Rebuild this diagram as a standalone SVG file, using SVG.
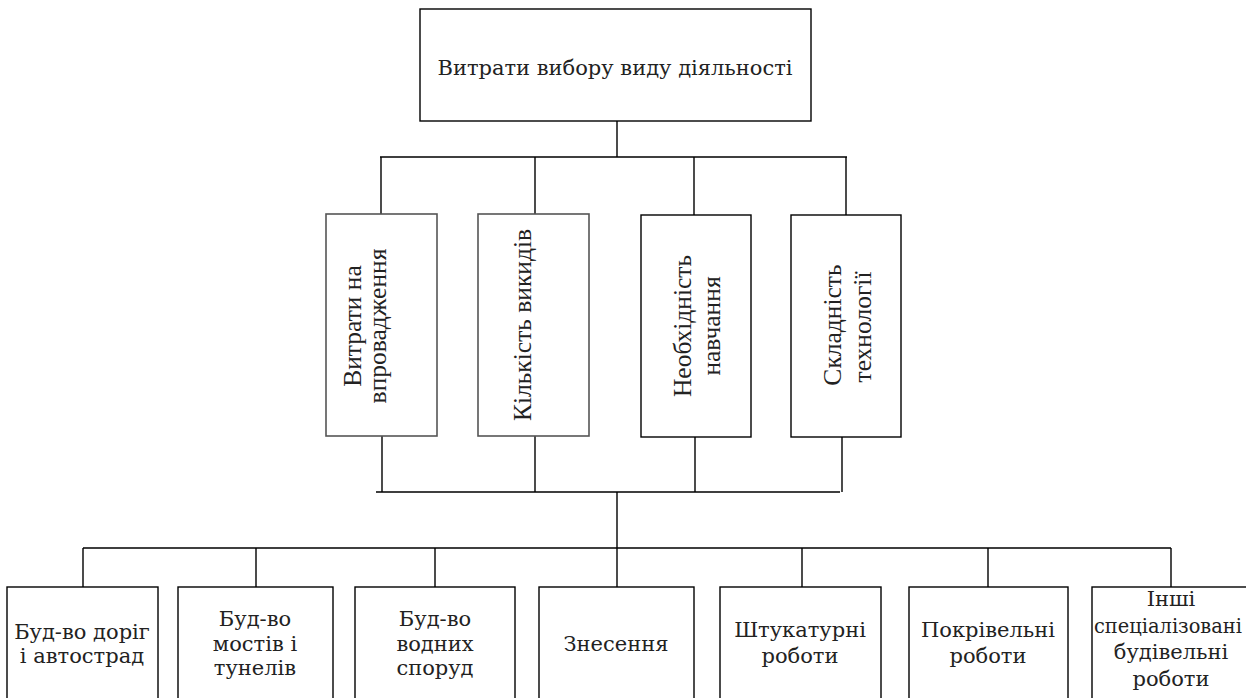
<svg xmlns="http://www.w3.org/2000/svg" width="1246" height="698" viewBox="0 0 1246 698">
<style>
.box{fill:#fff;stroke:#000;stroke-width:1.4}
.gbox{fill:#fff;stroke:#555;stroke-width:1.6}
.ln{stroke:#000;stroke-width:1.4;fill:none}
.t{font-family:"DejaVu Serif",serif;font-size:21px;fill:#222;text-anchor:middle}
.v{font-family:"Liberation Serif","Times New Roman",serif;font-size:25.5px;fill:#222;text-anchor:middle}
</style>
<rect width="1246" height="698" fill="#fff"/>
<g id="connectors">
<path class="ln" d="M617 121V157M380 157H847M381 157V214M535 157V214M694 157V215M846 157V215"/>
<path class="ln" d="M382 436V492M535 436V492M695 437V492M842 437V492M376 492H840M617 492V548M83 548H1171M83 548V587M256 548V587M435 548V587M617 548V587M802 548V587M988 548V587M1171 548V587"/>
</g>
<g id="root"><rect class="box" x="420" y="9" width="391" height="112"/><text class="t" x="615" y="75">Витрати вибору виду діяльності</text></g>
<g id="m1"><rect class="gbox" x="326" y="214" width="111" height="222"/>
<text class="v" transform="translate(361 326) rotate(-90)">Витрати на</text>
<text class="v" transform="translate(386 326) rotate(-90)">впровадження</text></g>
<g id="m2"><rect class="gbox" x="478" y="214" width="111" height="222"/>
<text class="v" transform="translate(531 325) rotate(-90)">Кількість викидів</text></g>
<g id="m3"><rect class="box" x="641" y="215" width="110" height="222"/>
<text class="v" transform="translate(691 326) rotate(-90)">Необхідність</text>
<text class="v" transform="translate(720 326) rotate(-90)">навчання</text></g>
<g id="m4"><rect class="box" x="791" y="215" width="110" height="222"/>
<text class="v" transform="translate(841 325) rotate(-90)">Складність</text>
<text class="v" transform="translate(871 327) rotate(-90)">технології</text></g>
<g id="b1"><rect class="box" x="7" y="587" width="151" height="120"/><text class="t" x="82" y="639">Буд-во доріг</text><text class="t" x="82" y="663">і автострад</text></g>
<g id="b2"><rect class="box" x="178" y="587" width="155" height="120"/><text class="t" x="255" y="626">Буд-во</text><text class="t" x="255" y="651">мостів і</text><text class="t" x="255" y="675">тунелів</text></g>
<g id="b3"><rect class="box" x="355" y="587" width="160" height="120"/><text class="t" x="435" y="626">Буд-во</text><text class="t" x="435" y="651">водних</text><text class="t" x="435" y="675">споруд</text></g>
<g id="b4"><rect class="box" x="539" y="587" width="155" height="120"/><text class="t" x="616" y="651">Знесення</text></g>
<g id="b5"><rect class="box" x="720" y="587" width="161" height="120"/><text class="t" x="800" y="637">Штукатурні</text><text class="t" x="800" y="663">роботи</text></g>
<g id="b6"><rect class="box" x="909" y="587" width="159" height="120"/><text class="t" x="988" y="637">Покрівельні</text><text class="t" x="988" y="663">роботи</text></g>
<g id="b7"><rect class="box" x="1092" y="587" width="160" height="120"/><text class="t" x="1171" y="606">Інші</text><text class="t" x="1168" y="633" textLength="148" lengthAdjust="spacingAndGlyphs">спеціалізовані</text><text class="t" x="1171" y="659">будівельні</text><text class="t" x="1171" y="686">роботи</text></g>
</svg>
